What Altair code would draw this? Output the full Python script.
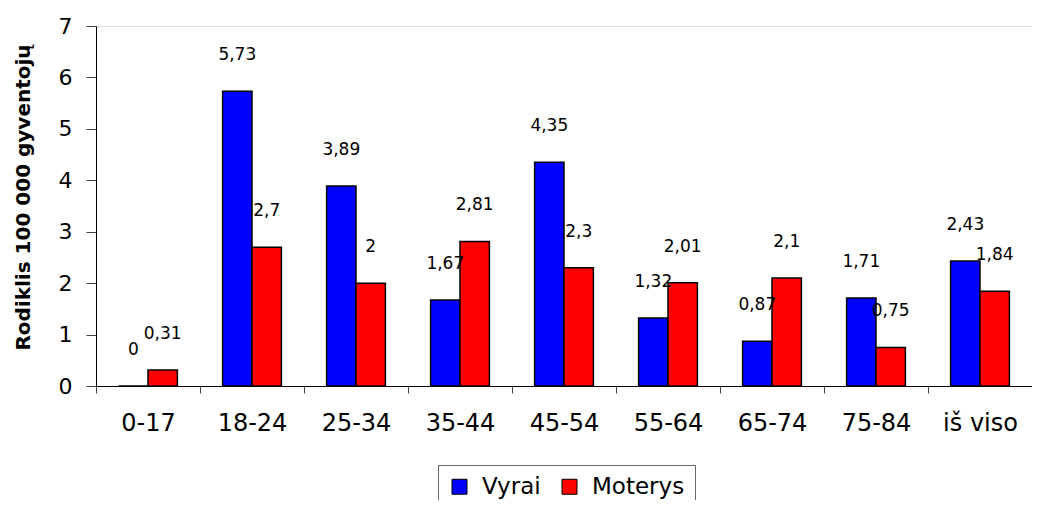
import altair as alt
import pandas as pd

categories = ["0-17", "18-24", "25-34", "35-44", "45-54", "55-64", "65-74", "75-84", "iš viso"]
vyrai = [0, 5.73, 3.89, 1.67, 4.35, 1.32, 0.87, 1.71, 2.43]
moterys = [0.31, 2.7, 2, 2.81, 2.3, 2.01, 2.1, 0.75, 1.84]
series = ["Vyrai", "Moterys"]
colors = ["#0000FF", "#FF0000"]
y_ticks = [0, 1, 2, 3, 4, 5, 6, 7]


def fmt(v):
    return f"{v:g}".replace(".", ",")


rows = []
for c, v, m in zip(categories, vyrai, moterys):
    rows.append({"cat": c, "series": series[0], "value": v, "label": fmt(v)})
    rows.append({"cat": c, "series": series[1], "value": m, "label": fmt(m)})
df = pd.DataFrame(rows)

x = alt.X("cat:N", sort=categories, title=None,
          scale=alt.Scale(paddingInner=0, paddingOuter=0),
          axis=alt.Axis(labelAngle=0, tickBand="extent", labelFontSize=24,
                        labelFont="DejaVu Sans", labelColor="black", tickSize=7,
                        labelPadding=18, domainColor="black", tickColor="#444",
                        grid=False))
xoff = alt.XOffset("series:N", sort=series,
                   scale=alt.Scale(paddingOuter=0.77, paddingInner=0))
y = alt.Y("value:Q", scale=alt.Scale(domain=[0, 7], nice=False),
          title="Rodiklis 100 000 gyventojų",
          axis=alt.Axis(values=y_ticks, grid=False, labelFontSize=22,
                        labelFont="DejaVu Sans", labelColor="black", tickSize=10,
                        labelPadding=14, domainColor="black", tickColor="#444",
                        titleFont="DejaVu Sans", titleFontSize=20, titleFontWeight="bold",
                        titleColor="black", titleAngle=270, titleAlign="center",
                        titleBaseline="middle", titleX=-73, titleY=171))
color = alt.Color("series:N", sort=series,
                  scale=alt.Scale(domain=series, range=colors),
                  legend=alt.Legend(title=None, orient="none", legendX=342, legendY=439,
                                    direction="horizontal", symbolType="square",
                                    symbolSize=225, labelFontSize=23,
                                    labelFont="DejaVu Sans", labelColor="black",
                                    symbolStrokeColor="black", symbolStrokeWidth=1,
                                    symbolOpacity=1,
                                    strokeColor="#666", fillColor="white", padding=10,
                                    columnPadding=17, labelOffset=11))

bars = alt.Chart(df).mark_bar(stroke="black", strokeWidth=1.5, opacity=1).encode(
    x=x, xOffset=xoff, y=y, color=color
)
texts = alt.Chart(df).mark_text(dy=-36, baseline="middle", align="center",
                                font="DejaVu Sans", fontSize=17, color="black").encode(
    x=alt.X("cat:N", sort=categories), xOffset=alt.XOffset("series:N", sort=series),
    y="value:Q", text="label:N"
)

chart = alt.layer(bars, texts).properties(
    width=936, height=360,
    autosize=alt.AutoSizeParams(type="none"),
    padding={"left": 88, "top": 18, "right": 0, "bottom": 114},
).configure_view(stroke=None).configure(font="DejaVu Sans", background="white")

chart.save("out.html", embed_options={"renderer": "svg", "actions": False})
